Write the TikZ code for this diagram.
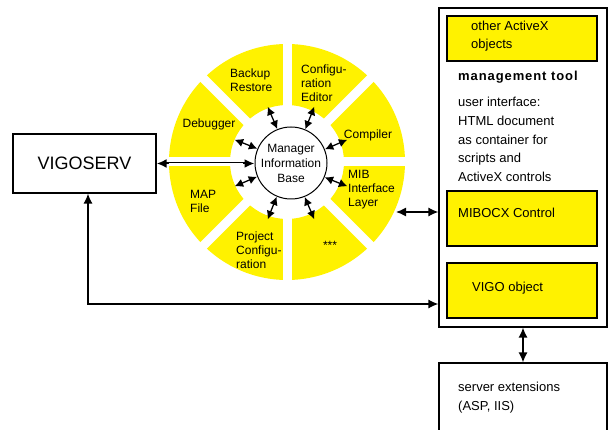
\documentclass[tikz,border=0pt]{standalone}
\usepackage{fontspec}
\setmainfont{Liberation Sans}
\usetikzlibrary{arrows.meta,calc}

\tikzset{
  box/.style={draw, line width=1.2pt, inner sep=0pt},
  ybox/.style={box, fill=yellow},
  lbl/.style={font=\fontsize{12}{14}\selectfont, align=left, inner sep=0pt},
  rtext/.style={font=\fontsize{13}{18.7}\selectfont, align=left, inner sep=0pt, anchor=west},
  link/.style={line width=1.3pt, {Latex[length=10pt,width=9pt]}-{Latex[length=10pt,width=9pt]}},
  spoke/.style={line width=1.3pt, {Latex[length=8.5pt,width=8.5pt]}-{Latex[length=8.5pt,width=8.5pt]}},
}

\begin{document}
\begin{tikzpicture}[x=1pt,y=-1pt]
    \clip (0,0) rectangle (610,430);
    \coordinate (ctr) at (287,162);
    % yellow ring cut into eight parts
    \fill[yellow,even odd rule] (ctr) circle[radius=118pt] (ctr) circle[radius=57pt];
    \foreach \a in {0,45,...,315}
        \draw[white,line width=9pt] (ctr) -- ++(\a:125pt);

    \node[draw,circle,line width=1pt,fill=white,minimum size=72pt,inner sep=0pt,
        font=\fontsize{12}{15}\selectfont,align=center] (mib) at (291,163) {Manager\\Information\\Base};
    \foreach \a in {22.5,67.5,...,337.5}
        \draw[spoke] (mib.\a) -- ($(mib.center)+(\a:61pt)$);

    \node[lbl,anchor=west] (backup) at (230,80) {Backup\\Restore};
    \node[lbl,anchor=west] (confed) at (301,83) {Configu-\\ration\\Editor};
    \node[lbl] (debugger) at (209,124) {Debugger};
    \node[lbl] (compiler) at (368,135) {Compiler};
    \node[lbl,anchor=west] (miblayer) at (348,190) {MIB\\Interface\\Layer};
    \node[lbl,anchor=west] (mapfile) at (190,201) {MAP\\File};
    \node[lbl,anchor=west] (projconf) at (236,250) {Project\\Configu-\\ration};
    \node[lbl] (more) at (330,245) {***};

    \node[box,minimum width=143pt,minimum height=59pt,font=\fontsize{18}{20}\selectfont] (vigo) at (84.5,163.5) {VIGOSERV};

    % management tool
    \node[box,minimum width=168pt,minimum height=319pt] (mgmt) at (523,167.5) {};
    \node[ybox,minimum width=150pt,minimum height=45pt] (other) at (522,38.5) {};
    \node[rtext] (othertxt) at (471,36) {other ActiveX\\objects};
    \node[rtext,font=\fontsize{13}{15}\selectfont\bfseries\addfontfeature{LetterSpace=7}] (title) at (458,77) {management tool};
    \node[rtext] (ui) at (458,139.5) {user interface:\\HTML document\\as container for\\scripts and\\ActiveX controls};
    \node[ybox,minimum width=150pt,minimum height=55pt] (mibocx) at (522,218.5) {};
    \node[rtext] (mibocxtxt) at (458,213) {MIBOCX Control};
    \node[ybox,minimum width=150pt,minimum height=55pt] (vigoobj) at (522,290.5) {};
    \node[rtext] (vigoobjtxt) at (472,288) {VIGO object};

    \node[box,minimum width=168pt,minimum height=90pt] (server) at (523,408) {};
    \node[rtext] (servertxt) at (458,397.5) {server extensions\\(ASP, IIS)};

    % connectors
    \draw[link,line width=2pt] (vigo.east) -- (vigo.east -| mib.west);
    \draw[white,line width=0.6pt,shorten <=12pt,shorten >=12pt] (vigo.east) -- (vigo.east -| mib.west);
    \coordinate (mibout) at (396,212);
    \draw[link] (mibout) -- (mibout -| mgmt.west);
    \coordinate (turn) at (88,304);
    \draw[link] (turn -| mgmt.west) -- (turn) -- (turn |- vigo.south);
    \draw[link] (mgmt.south) -- (server.north);
\end{tikzpicture}
\end{document}
